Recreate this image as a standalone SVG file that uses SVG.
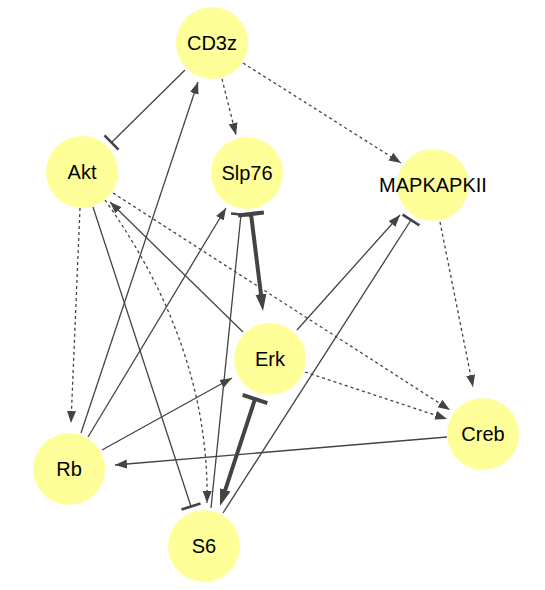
<svg xmlns="http://www.w3.org/2000/svg" width="545" height="590" viewBox="0 0 545 590">
<style>
.node circle{fill:#ffff99;stroke:none}
.node text{font-family:"Liberation Sans",Arial,sans-serif;font-size:20px;fill:#000;text-anchor:middle}
.e{fill:none;stroke:#444;stroke-width:1.3}
.d{stroke-dasharray:3 3}
.t{stroke-width:4}
</style>
<defs>
<marker id="arr" markerUnits="userSpaceOnUse" markerWidth="13" markerHeight="10" viewBox="0 0 13 10" refX="12" refY="5" orient="auto"><path d="M0,0.5 L12,5 L0,9.5 z" fill="#444"/></marker>
<marker id="arrT" markerUnits="userSpaceOnUse" markerWidth="18" markerHeight="12" viewBox="0 0 18 12" refX="7" refY="6" orient="auto"><path d="M0,0.5 L17,6 L0,11.5 z" fill="#444"/></marker>
<marker id="tee" markerUnits="userSpaceOnUse" markerWidth="4" markerHeight="22" viewBox="-2 -11 4 22" refX="0" refY="0" orient="auto"><path d="M0,-10 V10" stroke="#444" stroke-width="2.6"/></marker>
<marker id="teeT" markerUnits="userSpaceOnUse" markerWidth="5" markerHeight="28" viewBox="-2.5 -14 5 28" refX="0" refY="0" orient="auto"><path d="M0,-13 V13" stroke="#444" stroke-width="4"/></marker>
</defs>
<g id="edges">
<path class="e" d="M185,70 L111.5,142.5" marker-end="url(#tee)"/>
<path class="e d" d="M222,79 L236,135" marker-end="url(#arr)"/>
<path class="e d" d="M243,63 L401,163" marker-end="url(#arr)"/>
<path class="e" d="M81,433 L198,82" marker-end="url(#arr)"/>
<path class="e d" d="M80,208 L71,423" marker-end="url(#arr)"/>
<path class="e" d="M93,207 L191,506.5" marker-end="url(#tee)"/>
<path class="e d" d="M105,200 Q210,348 207,503" marker-end="url(#arr)"/>
<path class="e d" d="M113,193 L450,410" marker-end="url(#arr)"/>
<path class="e" d="M243,332 L110,202" marker-end="url(#arr)"/>
<path class="e" d="M88,437 L226,208" marker-end="url(#arr)"/>
<path class="e t" d="M251,214 L261.8,301.1" marker-start="url(#teeT)" marker-end="url(#arrT)"/>
<path class="e" d="M211,508 L241,214.5" marker-end="url(#tee)"/>
<path class="e" d="M297,330 L400,215" marker-end="url(#arr)"/>
<path class="e" d="M223,513 L411,220" marker-end="url(#tee)"/>
<path class="e d" d="M440,222 L473,387" marker-end="url(#arr)"/>
<path class="e d" d="M305,372 L447,419" marker-end="url(#arr)"/>
<path class="e" d="M447,437 L115,465" marker-end="url(#arr)"/>
<path class="e" d="M102,450 L232,378" marker-end="url(#arr)"/>
<path class="e t" d="M255,399 L223.1,496.5" marker-start="url(#teeT)" marker-end="url(#arrT)"/>
</g>
<g id="CD3z" class="node"><circle cx="212" cy="43" r="36"/><text x="212" y="50">CD3z</text></g>
<g id="Slp76" class="node"><circle cx="247" cy="173" r="36"/><text x="247" y="180">Slp76</text></g>
<g id="MAPKAPKII" class="node"><circle cx="433" cy="185" r="36"/><text x="433" y="192">MAPKAPKII</text></g>
<g id="Akt" class="node"><circle cx="82" cy="172" r="36"/><text x="82" y="179">Akt</text></g>
<g id="Erk" class="node"><circle cx="270" cy="359" r="36"/><text x="270" y="366">Erk</text></g>
<g id="Rb" class="node"><circle cx="69" cy="469" r="36"/><text x="69" y="476">Rb</text></g>
<g id="S6" class="node"><circle cx="204" cy="546" r="36"/><text x="204" y="553">S6</text></g>
<g id="Creb" class="node"><circle cx="483" cy="434" r="36"/><text x="483" y="441">Creb</text></g>
</svg>
